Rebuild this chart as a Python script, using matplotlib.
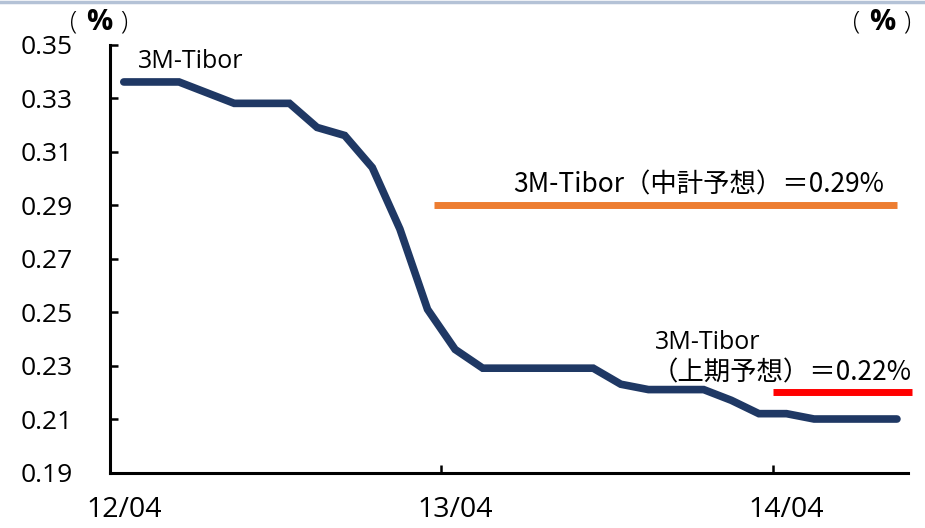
import matplotlib
matplotlib.use("Agg")
import matplotlib.pyplot as plt
from matplotlib.lines import Line2D
import numpy as np

plt.rcParams['font.family'] = ['Open Sans', 'Noto Sans CJK JP', 'DejaVu Sans']

# monthly 3M-Tibor, 2012/04 .. 2014/08 (plotted at month centres)
tibor = [0.336, 0.336, 0.336, 0.332, 0.328, 0.328, 0.328, 0.319, 0.316, 0.304,
         0.281, 0.251, 0.236, 0.229, 0.229, 0.229, 0.229, 0.229, 0.223, 0.221,
         0.221, 0.221, 0.217, 0.212, 0.212, 0.210, 0.210, 0.210, 0.210]
months = np.arange(len(tibor)) + 0.5

# forecast levels
mid_term_rate = 0.29      # 中計予想
mid_term_span = [11.75, 28.5]
half_year_rate = 0.22     # 上期予想
half_year_span = [24.0, 29.05]

year_ticks = [0, 12, 24]
year_labels = ['12/04', '13/04', '14/04']
y_ticks = [0.19, 0.21, 0.23, 0.25, 0.27, 0.29, 0.31, 0.33, 0.35]

cjk = ['Noto Sans CJK JP', 'DejaVu Sans']

fig = plt.figure(figsize=(9.25, 5.28), dpi=100)
ax = fig.add_axes([0.1189, 0.1051, 0.8627, 0.8106])

ax.plot(months, tibor, color='#1f3864', lw=5.5, solid_capstyle='round',
        solid_joinstyle='miter', zorder=3)
ax.plot(mid_term_span, [mid_term_rate] * 2, color='#ed7d31', lw=5.0,
        solid_capstyle='butt', zorder=2)
ax.plot(half_year_span, [half_year_rate] * 2, color='#ff0000', lw=5.0,
        solid_capstyle='butt', zorder=2, clip_on=False)

ax.set_xlim(0, 28.9)
ax.set_ylim(0.19, 0.35)

for side in ['top', 'right']:
    ax.spines[side].set_visible(False)
for side in ['left', 'bottom']:
    ax.spines[side].set_linewidth(2.2)

ax.set_yticks(y_ticks)
ax.set_yticklabels([f'{v:.2f}' for v in y_ticks])
ax.tick_params(axis='y', direction='in', length=6, width=1.8, pad=27,
               labelsize=19)

# tick marks at year starts, labels centred on the first month
ax.set_xticks(year_ticks)
ax.set_xticklabels([])
ax.set_xticks([t + 0.5 for t in year_ticks], minor=True)
ax.set_xticklabels(year_labels, minor=True)
ax.tick_params(axis='x', which='major', direction='in', length=6, width=1.8)
ax.tick_params(axis='x', which='minor', length=0, pad=17, labelsize=20.5)

ax.text(1.0, 0.3437, '3M-Tibor', fontsize=18, ha='left', va='center')
ax.text(21.3, 0.2974, '3M-Tibor（中計予想）＝0.29%', fontsize=19,
        ha='center', va='center', family=cjk)
ax.text(19.75, 0.2387, '3M-Tibor', fontsize=18, ha='left', va='center')
ax.text(19.6, 0.2272, '（上期予想）＝0.22%', fontsize=19, ha='left',
        va='center', family=cjk)

# unit marks on both sides: thin brackets, heavy percent sign
for x0 in [70, 853]:
    ty = 1 - 22 / 528
    fig.text((x0 + 4) / 925, ty, '(', fontsize=19, ha='center', va='center',
             fontweight='light')
    fig.text((x0 + 29) / 925, ty, '%', fontsize=21, ha='center', va='center',
             fontweight='bold')
    fig.text((x0 + 54) / 925, ty, ')', fontsize=19, ha='center', va='center',
             fontweight='light')

# thin frame edge along the top
fig.add_artist(Line2D([0, 1], [0.997, 0.997], color='#b4c2d6', lw=2.5,
                      transform=fig.transFigure))

fig.savefig('out.png', dpi=100)
